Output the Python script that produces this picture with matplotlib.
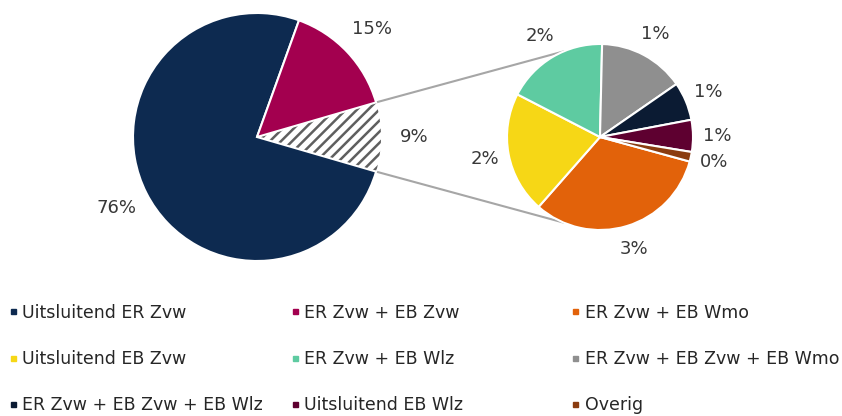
import numpy as np
import matplotlib
matplotlib.use("Agg")
from matplotlib import pyplot as plt
from matplotlib.lines import Line2D

# Main pie: share per category (the "other" slice is split in the small pie)
main_labels = ["Uitsluitend ER Zvw", "ER Zvw + EB Zvw"]
main_values = [76.0, 15.0]
main_colors = ["#0d2a50", "#a3004f"]

# Secondary pie, clockwise from the orange slice
sub_labels = [
    "ER Zvw + EB Wmo",
    "Uitsluitend EB Zvw",
    "ER Zvw + EB Wlz",
    "ER Zvw + EB Zvw + EB Wmo",
    "ER Zvw + EB Zvw + EB Wlz",
    "Uitsluitend EB Wlz",
    "Overig",
]
sub_values = [2.9, 1.9, 1.6, 1.35, 0.6, 0.5, 0.15]
sub_colors = ["#e2620a", "#f6d716", "#5ecba1", "#8f8f8f", "#0b1b33", "#5e0030", "#8a3c10"]

# legend order (row-major as in the reference)
legend_order = [
    "Uitsluitend ER Zvw", "ER Zvw + EB Zvw", "ER Zvw + EB Wmo",
    "Uitsluitend EB Zvw", "ER Zvw + EB Wlz", "ER Zvw + EB Zvw + EB Wmo",
    "ER Zvw + EB Zvw + EB Wlz", "Uitsluitend EB Wlz", "Overig",
]

plt.rcParams["font.family"] = ["DejaVu Sans"]
plt.rcParams["hatch.linewidth"] = 1.8

W, H = 842, 416
fig = plt.figure(figsize=(W / 100, H / 100), dpi=100)
ax = fig.add_axes([0, 0, 1, 1])

other_total = sum(sub_values)
main_all = main_values + [other_total]
text_color = "#383838"

# main pie
c_main = (257, 279)
r_main = 124
half_other = other_total / sum(main_all) * 360 / 2
wedges, texts = ax.pie(
    main_all,
    colors=main_colors + ["white"],
    labels=[f"{v:.0f}%" for v in main_all],
    labeldistance=1.27,
    startangle=-half_other,
    counterclock=False,
    center=c_main,
    radius=r_main,
    wedgeprops=dict(edgecolor="white", linewidth=1.5),
    textprops=dict(fontsize=13, color=text_color),
)
hw = wedges[-1]
hw.set_hatch("///")
hw.set_edgecolor("#5f5f5f")
hw.set_linewidth(0)
hw.set_zorder(0.5)
for t in texts:
    t.set_ha("center")

# secondary pie
c_sub = (600, 279)
r_sub = 93
wedges2, texts2 = ax.pie(
    sub_values,
    colors=sub_colors,
    labels=[f"{v:.0f}%" for v in np.round(np.array(sub_values) + 1e-9)],
    labeldistance=1.26,
    startangle=-15.3,
    counterclock=False,
    center=c_sub,
    radius=r_sub,
    wedgeprops=dict(edgecolor="white", linewidth=1.5),
    textprops=dict(fontsize=13, color=text_color),
)
for t in texts2:
    t.set_ha("center")

# connector lines
for sgn in (1, -1):
    a1 = np.deg2rad(sgn * half_other)
    a2 = np.deg2rad(sgn * 113)
    x1 = c_main[0] + r_main * np.cos(a1)
    y1 = c_main[1] + r_main * np.sin(a1)
    x2 = c_sub[0] + r_sub * np.cos(a2)
    y2 = c_sub[1] + r_sub * np.sin(a2)
    ax.plot([x1, x2], [y1, y2], color="#a6a6a6", lw=1.5, zorder=0.4)

ax.set_xlim(0, W)
ax.set_ylim(0, H)
ax.set_aspect("equal")
ax.axis("off")

# legend: three columns with equal spacing
color_of = dict(zip(main_labels + sub_labels, main_colors + sub_colors))
col_x = [7.3 / W, 289.5 / W, 570 / W]
for ci, x in enumerate(col_x):
    names = legend_order[ci::3]
    handles = [
        Line2D([], [], marker="s", markersize=3.6, linestyle="none", color=color_of[n])
        for n in names
    ]
    fig.legend(
        handles, names,
        loc="upper left",
        bbox_to_anchor=(x, 1 - 303.5 / H),
        frameon=False,
        fontsize=12.5,
        labelcolor="#262626",
        handlelength=0.6,
        handletextpad=0.25,
        labelspacing=1.64,
        borderaxespad=0,
        borderpad=0,
    )

fig.savefig("out.png", dpi=100)
